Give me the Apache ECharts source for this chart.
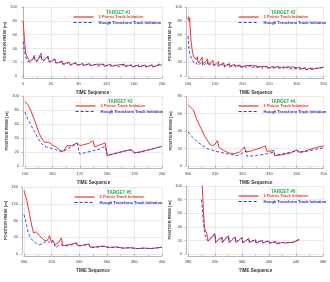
<!DOCTYPE html>
<html><head><meta charset="utf-8">
<script src="https://cdn.jsdelivr.net/npm/echarts@6/dist/echarts.min.js"></script>
<style>html,body{margin:0;padding:0;background:#fff}#c{width:330px;height:282px}</style>
</head><body><div id="c"></div>
<script>
var redName = '2 Points Track Initiation';
var blueName = 'Hough Transform Track Initiation';
var titles = ['TARGET #1','TARGET #2','TARGET #3','TARGET #4','TARGET #5','TARGET #6'];
var xLabel = 'TIME Sequence';
var yLabel = 'POSITION RMSE [m]';
// axis ranges [min, max, interval]
var xRanges = [[0,200,40],[100,350,50],[150,200,10],[300,350,10],[300,400,20],[280,480,40]];
var yRanges = [[0,100,20],[0,100,20],[0,100,20],[0,80,20],[0,160,40],[0,100,20]];

var red1 = [[0,80],[1,68],[2,55],[3,42],[4,34],[5,30],[6,28],[8,24],[10,21],[12,22],[15,26],[16,30],[17,24],[20,22],[23,27],[26,33],[27,25],[30,23],[33,26],[36,29],[37,23],[40,21],[43,23],[46,25],[47,20],[50,19],[53,20],[56,22],[57,18],[60,18],[63,19],[66,20],[67,17],[70,17],[73,18],[76,19],[77,16],[80,16],[86,18],[87,15],[96,18],[97,15],[106,17],[107,15],[116,17],[117,14],[126,17],[127,14],[136,16],[137,14],[146,17],[147,14],[156,16],[157,13],[166,16],[167,13],[176,16],[177,13],[186,16],[187,13],[196,16],[197,14],[200,16]];
var blue1 = [[0,50],[1,44],[2,38],[3,32],[4,28],[5,25],[6,22],[8,20],[10,20],[12,22],[15,25],[16,28],[17,22],[20,21],[23,25],[26,30],[27,23],[30,22],[33,25],[36,27],[37,21],[40,20],[43,22],[46,24],[47,19],[50,19],[53,20],[56,21],[57,17],[60,17],[63,18],[66,20],[67,16],[70,16],[73,18],[76,19],[77,16],[80,16],[86,18],[87,15],[96,18],[97,15],[106,17],[107,14],[116,17],[117,14],[126,17],[127,14],[136,16],[137,13],[146,17],[147,14],[156,16],[157,13],[166,16],[167,13],[176,16],[177,13],[186,16],[187,13],[196,17],[197,15],[200,17]];

var red2 = [[100,82],[101,86],[102,79],[103,84],[104,70],[105,58],[106,48],[107,42],[108,36],[109,32],[110,29],[112,26],[114,28],[116,24],[117,28],[118,22],[120,19],[123,23],[126,27],[127,18],[130,17],[133,21],[136,25],[137,17],[140,16],[143,20],[146,23],[147,16],[150,16],[153,18],[156,21],[157,15],[160,15],[166,19],[167,14],[176,18],[177,14],[186,17],[187,14],[196,16],[197,13],[206,15],[207,13],[216,15],[217,13],[226,15],[227,12],[236,14],[237,12],[246,14],[247,11],[256,14],[257,11],[266,14],[267,11],[276,13],[277,11],[286,13],[287,11],[296,13],[297,10],[306,13],[307,10],[316,12],[317,9],[326,12],[327,9],[336,11],[337,10],[346,12],[347,11],[350,13]];
var blue2 = [[100,58],[101,48],[102,40],[103,34],[104,30],[105,28],[107,25],[109,22],[110,20],[112,18],[114,17],[116,19],[117,16],[120,16],[123,18],[126,21],[127,15],[130,15],[133,18],[136,21],[137,15],[140,15],[143,18],[146,20],[147,15],[150,15],[153,17],[156,19],[157,14],[160,14],[166,18],[167,13],[176,17],[177,13],[186,16],[187,13],[196,15],[197,12],[206,15],[207,12],[216,15],[217,12],[226,14],[227,12],[236,14],[237,11],[246,14],[247,11],[256,13],[257,11],[266,13],[267,11],[276,13],[277,10],[286,13],[287,10],[296,12],[297,10],[306,12],[307,9],[316,12],[317,9],[326,11],[327,9],[336,11],[337,10],[346,12],[347,11],[350,13]];

var red3 = [[150,92],[151,88],[152,80],[153,70],[154,60],[155,48],[156,40],[157,34],[158,34],[158.7,36],[159,33],[160,30],[161,28],[162,25],[163,22],[164,21],[164.5,22],[165.3,29],[166,29],[167,29],[168,31],[169,33],[170,29],[171,30],[172,31],[173,32],[174,34],[174.8,36],[175.5,27],[176,28],[177,30],[178,31],[179.3,33],[180,15],[182,17],[184,19],[186,21],[188,23],[189,23],[190,19],[192,20],[194,22],[196,24],[198,26],[200,28]];
var blue3 = [[150,77],[151,67],[152,60],[153,52],[154,45],[155,38],[156,32],[157,29],[158,27],[159,26],[160,25],[161,24],[162,22],[163,21],[164,21],[165,23],[166,26],[167,28],[168,30],[169,33],[170,17],[171,18],[172,19],[173,20],[174,21],[175,22],[176,23],[177,24],[178,26],[179.3,28],[180,15],[182,17],[184,19],[186,21],[188,23],[189,22],[190,18],[192,20],[194,22],[196,24],[198,26],[200,28]];

var red4 = [[300,70],[301,67],[302,64],[303,55],[304,48],[305,42],[306,35],[307,30],[308,25],[309,23],[310,25],[310.8,29],[311.5,21],[312,19],[313,18],[315,15],[317,14],[319,16],[320,19],[320.8,22],[321.3,16],[323,17],[325,19],[327,21],[328.5,23],[329,17],[330.5,17],[331.5,18],[332,12],[335,13],[338,15],[340.2,18.5],[340.8,16],[343,17],[345,19],[347,21],[350,23]];
var blue4 = [[300,39],[301,35],[302,32],[303,29],[305,24],[307,20],[310,17],[313,15],[316,13],[318,12],[319,13],[320,15],[321.5,17],[321.8,11],[325,12],[329,14],[330.5,15],[331.5,16],[332,12],[335,14],[338,16],[340.2,18],[340.8,15],[344,17],[347,19],[350,21]];

var red5 = [[300,152],[301,140],[302,128],[303,112],[304,96],[305,78],[306,62],[307,50],[308,48],[309,53],[311,45],[313,38],[315,32],[317,33],[318.6,44],[319.5,30],[321,33],[322,37],[322.5,22],[325,28],[327,38],[328,20],[330,21],[335,24],[338,27],[339,20],[342,21],[347,24],[348,16],[352,17],[357,19],[358,15],[362,16],[367,17],[368,13],[372,14],[377,15],[378,12],[382,13],[387,14],[388,12],[392,13],[397,15],[400,16]];
var blue5 = [[300,94],[301,82],[302,68],[303,52],[304,43],[305,37],[307,30],[309,25],[311,22],[313,24],[315,28],[317,32],[318,33],[319,25],[321,30],[322,33],[323,15],[325,20],[327,22],[328,18],[330,19],[335,22],[338,25],[339,19],[342,20],[347,23],[348,15],[352,16],[357,18],[358,14],[362,15],[367,16],[368,13],[372,14],[377,15],[378,12],[382,13],[387,14],[388,12],[392,13],[397,15],[400,16]];

var red6 = [[300,140],[301,105],[302,82],[303,62],[304,45],[305,37],[306,35],[307,36],[308,30],[309,23],[310,19],[313,22],[316,25],[320,29],[321,17],[325,21],[330,25],[331,17],[335,22],[340,27],[341,17],[345,21],[350,25],[351,17],[355,20],[360,24],[361,17],[365,19],[370,23],[371,17],[375,19],[380,21],[381,16],[385,18],[390,20],[391,16],[395,18],[400,19],[401,16],[405,17],[410,18],[411,15],[415,16],[420,17],[421,15],[425,16],[430,17],[431,15],[435,17],[440,19],[445,21]];
var blue6 = [[300,80],[301,68],[302,56],[303,45],[304,36],[305,30],[306,25],[307,22],[308,20],[310,19],[313,23],[316,27],[320,30],[321,17],[325,21],[330,25],[331,17],[335,22],[340,26],[341,17],[345,21],[350,25],[351,17],[355,20],[360,24],[361,17],[365,19],[370,23],[371,17],[375,19],[380,21],[381,16],[385,18],[390,20],[391,16],[395,18],[400,19],[401,16],[405,17],[410,18],[411,15],[415,16],[420,17],[421,15],[425,16],[430,17],[431,15],[435,17],[440,19],[445,22]];

var reds = [red1, red2, red3, red4, red5, red6];
var blues = [blue1, blue2, blue3, blue4, blue5, blue6];

// layout boxes [left, top, width, height]
var boxes = [[23,7,139,69],[188,7,138,69],[25,96,137,70],[188,96,139,70],[24,187,138,67],[188,186,135,68]];

var RED = '#ee3333', BLUE = '#3333dd';
var FONT = 'Liberation Sans, Arial, sans-serif';
var grids = [], xAxes = [], yAxes = [], series = [], titleArr = [], legends = [];
for (var i = 0; i < 6; i++) {
  var b = boxes[i];
  grids.push({left: b[0], top: b[1], width: b[2], height: b[3], containLabel: false});
  xAxes.push({
    type: 'value', gridIndex: i, min: xRanges[i][0], max: xRanges[i][1], interval: xRanges[i][2],
    offset: 2,
    name: xLabel, nameLocation: 'middle', nameGap: 12,
    nameTextStyle: {fontSize: 4.5, fontWeight: 'bold', color: '#333', fontFamily: FONT},
    axisLine: {show: true, onZero: false, lineStyle: {color: '#888', width: 0.6}},
    axisTick: {show: true, inside: true, length: 2, lineStyle: {color: '#888', width: 0.6}},
    minorTick: {show: true, splitNumber: 2, length: 1.2, lineStyle: {color: '#888', width: 0.5}},
    axisLabel: {fontSize: 4, color: '#444', margin: 4, fontFamily: FONT, formatter: function (v) { return String(v); }},
    splitLine: {show: true, lineStyle: {color: '#dcdcdc', width: 0.6}}
  });
  yAxes.push({
    type: 'value', gridIndex: i, min: yRanges[i][0], max: yRanges[i][1], interval: yRanges[i][2],
    offset: 2,
    name: yLabel, nameLocation: 'middle', nameGap: 13,
    nameTextStyle: {fontSize: 4, fontWeight: 'bold', color: '#333', fontFamily: FONT},
    axisLine: {show: true, lineStyle: {color: '#888', width: 0.6}},
    axisTick: {show: true, length: 1.5, lineStyle: {color: '#888', width: 0.6}},
    axisLabel: {fontSize: 4, color: '#444', margin: 4, fontFamily: FONT, formatter: function (v) { return String(v); }},
    splitLine: {show: true, lineStyle: {color: '#dcdcdc', width: 0.6}}
  });
  series.push({
    name: redName, type: 'line', xAxisIndex: i, yAxisIndex: i, data: reds[i],
    symbol: 'none', clip: true, lineStyle: {color: RED, width: 1}, itemStyle: {color: RED}, z: 2
  });
  series.push({
    name: blueName, type: 'line', xAxisIndex: i, yAxisIndex: i, data: blues[i],
    symbol: 'none', clip: true, lineStyle: {color: BLUE, width: 0.9, type: [3, 2]}, itemStyle: {color: BLUE}, z: 3
  });
  titleArr.push({
    text: titles[i], left: b[0] + 83, top: b[1] + 3.5, padding: 0,
    textStyle: {fontSize: 4.5, fontWeight: 'bold', color: '#22aa44', fontFamily: FONT}
  });
  legends.push({
    orient: 'vertical', left: b[0] + 50, top: b[1] + 8, padding: 0, itemGap: 1.5,
    itemWidth: 20, itemHeight: 5,
    itemStyle: {opacity: 0},
    data: [
      {name: redName, textStyle: {color: RED}, lineStyle: {color: RED, width: 1.2, type: 'solid'}},
      {name: blueName, textStyle: {color: '#2222cc'}, lineStyle: {color: BLUE, width: 1, type: [3, 2]}}
    ],
    textStyle: {fontSize: 4, fontWeight: 'bold', fontFamily: FONT},
    selectedMode: false
  });
}
var chart = echarts.init(document.getElementById('c'), null, {renderer: 'canvas'});
chart.setOption({
  animation: false,
  backgroundColor: '#fff',
  title: titleArr,
  legend: legends,
  grid: grids,
  xAxis: xAxes,
  yAxis: yAxes,
  series: series
});
</script></body></html>
